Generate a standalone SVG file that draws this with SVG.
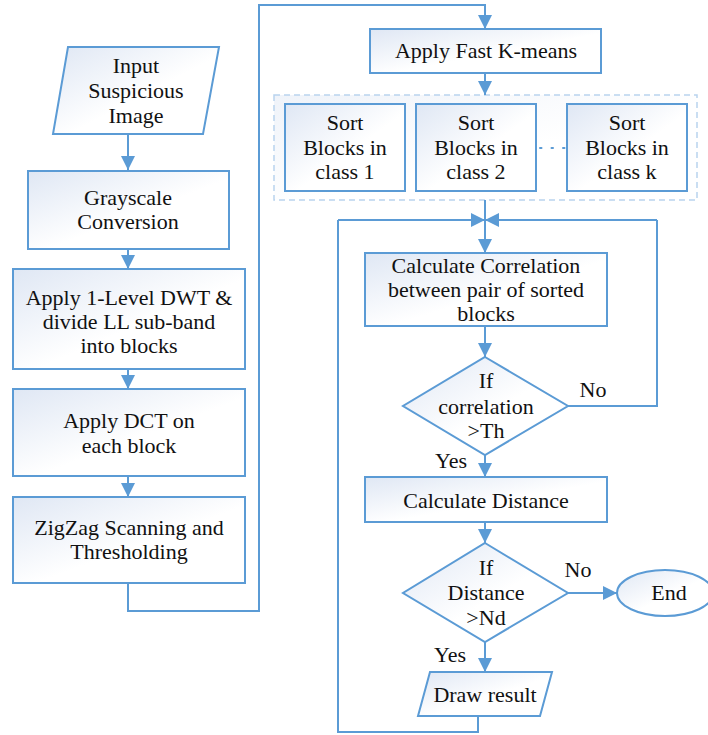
<svg xmlns="http://www.w3.org/2000/svg" width="708" height="735" viewBox="0 0 708 735">
<defs>
<linearGradient id="g" x1="0" y1="0" x2="1" y2="1">
<stop offset="0" stop-color="#dfe7f4"/>
<stop offset="0.55" stop-color="#ffffff"/>
</linearGradient>
<marker id="ah" markerUnits="userSpaceOnUse" markerWidth="14" markerHeight="14" refX="14" refY="7" orient="auto">
<path d="M0,0 L14,7 L0,14 z" fill="#5b9bd5"/>
</marker>
<style>
.n{fill:url(#g);stroke:#5b9bd5;stroke-width:2}
.c{fill:none;stroke:#5b9bd5;stroke-width:2}
.a{fill:none;stroke:#5b9bd5;stroke-width:2;marker-end:url(#ah)}
.t{font-family:"Liberation Serif","Times New Roman",serif;font-size:22px;fill:#111;text-anchor:middle}
</style>
</defs>
<rect width="708" height="735" fill="#fff"/>
<g id="container"><rect x="274" y="95" width="423" height="105" fill="url(#g)" fill-opacity="0.5" stroke="#b9d3ee" stroke-width="1.5" stroke-dasharray="6 4"/></g>
<g id="connectors">
<path class="a" d="M128,134 V170"/>
<path class="a" d="M128,249 V269"/>
<path class="a" d="M128,369 V389"/>
<path class="a" d="M128,476 V497"/>
<path class="a" d="M128,583 V611 H259 V5 H485 V29"/>
<path class="a" d="M485,73 V95"/>
<path class="a" d="M485,200 V253"/>
<path class="a" d="M338,220 H485"/>
<path class="a" d="M657,220 H485"/>
<path class="a" d="M485,326 V357"/>
<path class="c" d="M568,406 H657 V220"/>
<path class="a" d="M485,455 V477"/>
<path class="a" d="M485,522 V543"/>
<path class="a" d="M568,593 H617"/>
<path class="a" d="M485,642 V672"/>
<path class="c" d="M478,716 V732 H338 V220"/>
<path d="M540,148 H566" fill="none" stroke="#5b9bd5" stroke-width="2" stroke-dasharray="1.5 10" stroke-linecap="round"/>
<text class="t" x="451" y="468">Yes</text>
<text class="t" x="593" y="397">No</text>
<text class="t" x="578" y="577">No</text>
<text class="t" x="450" y="662">Yes</text>
</g>
<g id="input"><path class="n" d="M68,47 H219 L203,134 H53 Z"/><text class="t" x="136" y="73">Input</text><text class="t" x="136" y="98">Suspicious</text><text class="t" x="136" y="123">Image</text></g>
<g id="gray"><rect class="n" x="28" y="171" width="201" height="78"/><text class="t" x="128" y="205">Grayscale</text><text class="t" x="128" y="229">Conversion</text></g>
<g id="dwt"><rect class="n" x="13" y="269" width="232" height="100"/><text class="t" x="129" y="305">Apply 1-Level DWT &amp;</text><text class="t" x="129" y="329">divide LL sub-band</text><text class="t" x="129" y="353">into blocks</text></g>
<g id="dct"><rect class="n" x="13" y="389" width="232" height="87"/><text class="t" x="129" y="428">Apply DCT on</text><text class="t" x="129" y="453">each block</text></g>
<g id="zigzag"><rect class="n" x="13" y="497" width="232" height="86"/><text class="t" x="129" y="535">ZigZag Scanning and</text><text class="t" x="129" y="559">Thresholding</text></g>
<g id="kmeans"><rect class="n" x="370" y="29" width="231" height="44"/><text class="t" x="486" y="58">Apply Fast K-means</text></g>
<g id="sort1"><rect class="n" x="285" y="104" width="120" height="87"/><text class="t" x="345" y="130">Sort</text><text class="t" x="345" y="155">Blocks in</text><text class="t" x="345" y="179">class 1</text></g>
<g id="sort2"><rect class="n" x="416" y="104" width="120" height="87"/><text class="t" x="476" y="130">Sort</text><text class="t" x="476" y="155">Blocks in</text><text class="t" x="476" y="179">class 2</text></g>
<g id="sortk"><rect class="n" x="567" y="104" width="120" height="87"/><text class="t" x="627" y="130">Sort</text><text class="t" x="627" y="155">Blocks in</text><text class="t" x="627" y="179">class k</text></g>
<g id="corr"><rect class="n" x="365" y="253" width="242" height="73"/><text class="t" x="486" y="273">Calculate Correlation</text><text class="t" x="486" y="297">between pair of sorted</text><text class="t" x="486" y="321">blocks</text></g>
<g id="d1"><path class="n" d="M485,357 L568,406 L485,455 L403,406 Z"/><text class="t" x="486" y="388">If</text><text class="t" x="486" y="414">correlation</text><text class="t" x="486" y="438">&gt;Th</text></g>
<g id="dist"><rect class="n" x="365" y="477" width="242" height="45"/><text class="t" x="486" y="508">Calculate Distance</text></g>
<g id="d2"><path class="n" d="M485,543 L568,593 L485,642 L403,593 Z"/><text class="t" x="486" y="575">If</text><text class="t" x="486" y="600">Distance</text><text class="t" x="486" y="625">&gt;Nd</text></g>
<g id="end"><ellipse class="n" cx="665" cy="593" rx="48" ry="23"/><text class="t" x="669" y="600">End</text></g>
<g id="draw"><path class="n" d="M430,672 H552 L540,716 H418 Z"/><text class="t" x="485" y="702">Draw result</text></g>
</svg>
